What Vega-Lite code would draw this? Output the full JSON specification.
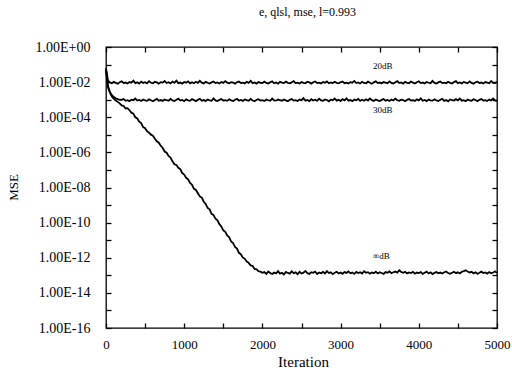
{
  "$schema": "https://vega.github.io/schema/vega-lite/v6.json",
  "autosize": "none",
  "width": 391,
  "height": 281,
  "padding": {"left": 106, "top": 47, "right": 15, "bottom": 43},
  "background": "white",
  "title": {"text": "e, qlsl, mse, l=0.993", "font": "Liberation Serif, Times New Roman, serif", "fontSize": 12, "fontWeight": "normal", "color": "black", "anchor": "middle", "frame": "group", "offset": 21, "dx": 6},
  "config": {"view": {"stroke": "black", "strokeWidth": 1.3}},
  "datasets": {
    "mse": [
      {"i":0,"a":6e-2,"b":5e-2,"c":5e-2},
      {"i":25,"a":1.25e-2,"b":6e-3,"c":5e-3},
      {"i":50,"a":9.4e-3,"b":2.8e-3,"c":2.5e-3},
      {"i":75,"a":8.6e-3,"b":1.8e-3,"c":1.5e-3},
      {"i":100,"a":10.3e-3,"b":1.4e-3,"c":1.1e-3},
      {"i":125,"a":9.1e-3,"b":1.2e-3,"c":9e-4},
      {"i":150,"a":8.2e-3,"b":1.08e-3,"c":7.5e-4},
      {"i":175,"a":9.8e-3,"b":9.8e-4,"c":6.2e-4},
      {"i":200,"a":11.0e-3,"b":9.9e-4,"c":4.68e-4},
      {"i":225,"a":8.9e-3,"b":10.8e-4,"c":4.37e-4},
      {"i":250,"a":9.5e-3,"b":8.7e-4,"c":3.16e-4},
      {"i":275,"a":8.4e-3,"b":9.4e-4,"c":3.31e-4},
      {"i":300,"a":10.1e-3,"b":8.3e-4,"c":2.51e-4},
      {"i":325,"a":9.3e-3,"b":10.0e-4,"c":1.82e-4},
      {"i":350,"a":12.2e-3,"b":9.3e-4,"c":1.62e-4},
      {"i":375,"a":8.8e-3,"b":11.7e-4,"c":1.0e-4},
      {"i":400,"a":9.7e-3,"b":8.9e-4,"c":8.51e-5},
      {"i":425,"a":8.3e-3,"b":9.6e-4,"c":5.62e-5},
      {"i":450,"a":10.6e-3,"b":8.4e-4,"c":4.68e-5},
      {"i":475,"a":9.0e-3,"b":10.3e-4,"c":2.75e-5},
      {"i":500,"a":9.9e-3,"b":9.0e-4,"c":2.4e-5},
      {"i":525,"a":8.5e-3,"b":8.6e-4,"c":1.62e-5},
      {"i":550,"a":11.3e-3,"b":10.6e-4,"c":1.32e-5},
      {"i":575,"a":9.2e-3,"b":9.2e-4,"c":1.02e-5},
      {"i":600,"a":8.7e-3,"b":8.1e-4,"c":8.91e-6},
      {"i":625,"a":10.4e-3,"b":9.7e-4,"c":6.03e-6},
      {"i":650,"a":9.6e-3,"b":11.1e-4,"c":4.27e-6},
      {"i":675,"a":8.1e-3,"b":8.8e-4,"c":3.55e-6},
      {"i":700,"a":10.0e-3,"b":9.5e-4,"c":2.4e-6},
      {"i":725,"a":9.4e-3,"b":8.5e-4,"c":1.78e-6},
      {"i":750,"a":11.6e-3,"b":10.1e-4,"c":1.12e-6},
      {"i":775,"a":8.9e-3,"b":9.3e-4,"c":9.55e-7},
      {"i":800,"a":9.8e-3,"b":8.7e-4,"c":6.31e-7},
      {"i":825,"a":8.4e-3,"b":10.9e-4,"c":5.01e-7},
      {"i":850,"a":10.7e-3,"b":9.0e-4,"c":3.09e-7},
      {"i":875,"a":9.1e-3,"b":8.4e-4,"c":2.09e-7},
      {"i":900,"a":12.0e-3,"b":9.8e-4,"c":1.91e-7},
      {"i":925,"a":8.8e-3,"b":11.4e-4,"c":1.32e-7},
      {"i":950,"a":9.5e-3,"b":8.9e-4,"c":1.1e-7},
      {"i":975,"a":8.2e-3,"b":9.6e-4,"c":6.61e-8},
      {"i":1000,"a":10.2e-3,"b":8.2e-4,"c":5.5e-8},
      {"i":1025,"a":9.3e-3,"b":10.4e-4,"c":3.55e-8},
      {"i":1050,"a":11.1e-3,"b":9.1e-4,"c":2.95e-8},
      {"i":1075,"a":8.6e-3,"b":8.6e-4,"c":1.82e-8},
      {"i":1100,"a":9.9e-3,"b":10.7e-4,"c":1.41e-8},
      {"i":1125,"a":8.7e-3,"b":9.4e-4,"c":8.32e-9},
      {"i":1150,"a":10.5e-3,"b":8.3e-4,"c":7.24e-9},
      {"i":1175,"a":9.0e-3,"b":9.9e-4,"c":4.68e-9},
      {"i":1200,"a":11.8e-3,"b":11.2e-4,"c":3.09e-9},
      {"i":1225,"a":9.4e-3,"b":8.8e-4,"c":2.63e-9},
      {"i":1250,"a":8.5e-3,"b":9.5e-4,"c":1.55e-9},
      {"i":1275,"a":10.3e-3,"b":8.5e-4,"c":1.15e-9},
      {"i":1300,"a":9.2e-3,"b":10.2e-4,"c":6.92e-10},
      {"i":1325,"a":8.3e-3,"b":9.2e-4,"c":5.75e-10},
      {"i":1350,"a":9.7e-3,"b":8.7e-4,"c":3.16e-10},
      {"i":1375,"a":10.9e-3,"b":11.8e-4,"c":2.69e-10},
      {"i":1400,"a":8.8e-3,"b":9.0e-4,"c":1.66e-10},
      {"i":1425,"a":9.6e-3,"b":8.4e-4,"c":1.35e-10},
      {"i":1450,"a":8.4e-3,"b":9.7e-4,"c":8.13e-11},
      {"i":1475,"a":10.1e-3,"b":10.8e-4,"c":6.03e-11},
      {"i":1500,"a":9.0e-3,"b":8.9e-4,"c":3.63e-11},
      {"i":1525,"a":11.4e-3,"b":9.3e-4,"c":3.02e-11},
      {"i":1550,"a":9.3e-3,"b":8.6e-4,"c":1.86e-11},
      {"i":1575,"a":8.6e-3,"b":10.5e-4,"c":1.48e-11},
      {"i":1600,"a":10.0e-3,"b":9.1e-4,"c":8.51e-12},
      {"i":1625,"a":9.5e-3,"b":8.3e-4,"c":6.76e-12},
      {"i":1650,"a":8.2e-3,"b":10.0e-4,"c":4.17e-12},
      {"i":1675,"a":9.8e-3,"b":11.3e-4,"c":3.31e-12},
      {"i":1700,"a":10.8e-3,"b":8.8e-4,"c":1.91e-12},
      {"i":1725,"a":8.9e-3,"b":9.6e-4,"c":1.55e-12},
      {"i":1750,"a":9.4e-3,"b":8.5e-4,"c":1.05e-12},
      {"i":1775,"a":8.5e-3,"b":10.3e-4,"c":8.71e-13},
      {"i":1800,"a":10.4e-3,"b":9.4e-4,"c":6.03e-13},
      {"i":1825,"a":9.1e-3,"b":8.7e-4,"c":5.13e-13},
      {"i":1850,"a":11.9e-3,"b":11.0e-4,"c":3.63e-13},
      {"i":1875,"a":8.7e-3,"b":9.0e-4,"c":3.39e-13},
      {"i":1900,"a":9.6e-3,"b":8.2e-4,"c":2.29e-13},
      {"i":1925,"a":8.3e-3,"b":9.8e-4,"c":2.19e-13},
      {"i":1950,"a":10.2e-3,"b":10.6e-4,"c":1.7e-13},
      {"i":1975,"a":9.2e-3,"b":8.9e-4,"c":1.62e-13},
      {"i":2000,"a":8.8e-3,"b":9.5e-4,"c":1.38e-13},
      {"i":2025,"a":10.6e-3,"b":8.4e-4,"c":1.52e-13},
      {"i":2050,"a":9.0e-3,"b":10.1e-4,"c":1.21e-13},
      {"i":2075,"a":8.4e-3,"b":9.3e-4,"c":1.63e-13},
      {"i":2100,"a":9.9e-3,"b":8.6e-4,"c":1.34e-13},
      {"i":2125,"a":11.2e-3,"b":11.6e-4,"c":1.18e-13},
      {"i":2150,"a":8.6e-3,"b":9.1e-4,"c":1.45e-13},
      {"i":2175,"a":9.5e-3,"b":8.8e-4,"c":1.29e-13},
      {"i":2200,"a":8.1e-3,"b":10.2e-4,"c":1.71e-13},
      {"i":2225,"a":10.3e-3,"b":9.4e-4,"c":1.25e-13},
      {"i":2250,"a":9.3e-3,"b":8.6e-4,"c":1.40e-13},
      {"i":2275,"a":8.9e-3,"b":10.3e-4,"c":1.12e-13},
      {"i":2300,"a":10.7e-3,"b":9.1e-4,"c":1.55e-13},
      {"i":2325,"a":9.1e-3,"b":8.2e-4,"c":1.36e-13},
      {"i":2350,"a":8.5e-3,"b":9.8e-4,"c":1.24e-13},
      {"i":2375,"a":9.7e-3,"b":11.0e-4,"c":1.68e-13},
      {"i":2400,"a":11.5e-3,"b":8.9e-4,"c":1.31e-13},
      {"i":2425,"a":8.8e-3,"b":9.5e-4,"c":1.47e-13},
      {"i":2450,"a":9.4e-3,"b":8.4e-4,"c":1.15e-13},
      {"i":2475,"a":8.3e-3,"b":10.1e-4,"c":1.58e-13},
      {"i":2500,"a":10.1e-3,"b":9.3e-4,"c":1.27e-13},
      {"i":2525,"a":9.0e-3,"b":12.2e-4,"c":1.42e-13},
      {"i":2550,"a":8.7e-3,"b":8.8e-4,"c":1.78e-13},
      {"i":2575,"a":10.5e-3,"b":9.7e-4,"c":1.33e-13},
      {"i":2600,"a":9.6e-3,"b":8.3e-4,"c":1.21e-13},
      {"i":2625,"a":8.2e-3,"b":10.6e-4,"c":1.50e-13},
      {"i":2650,"a":9.8e-3,"b":9.0e-4,"c":1.38e-13},
      {"i":2675,"a":10.9e-3,"b":9.9e-4,"c":1.62e-13},
      {"i":2700,"a":8.9e-3,"b":8.5e-4,"c":1.19e-13},
      {"i":2725,"a":9.3e-3,"b":11.3e-4,"c":1.44e-13},
      {"i":2750,"a":8.4e-3,"b":9.2e-4,"c":1.30e-13},
      {"i":2775,"a":10.2e-3,"b":8.7e-4,"c":1.56e-13},
      {"i":2800,"a":9.2e-3,"b":10.4e-4,"c":1.26e-13},
      {"i":2825,"a":11.0e-3,"b":9.6e-4,"c":1.73e-13},
      {"i":2850,"a":8.6e-3,"b":8.1e-4,"c":1.35e-13},
      {"i":2875,"a":9.5e-3,"b":10.0e-4,"c":1.48e-13},
      {"i":2900,"a":8.8e-3,"b":9.4e-4,"c":1.17e-13},
      {"i":2925,"a":10.4e-3,"b":11.6e-4,"c":1.41e-13},
      {"i":2950,"a":9.1e-3,"b":8.9e-4,"c":1.60e-13},
      {"i":2975,"a":8.5e-3,"b":9.8e-4,"c":1.28e-13},
      {"i":3000,"a":9.9e-3,"b":8.4e-4,"c":1.46e-13},
      {"i":3025,"a":10.8e-3,"b":10.7e-4,"c":1.22e-13},
      {"i":3050,"a":8.7e-3,"b":9.1e-4,"c":1.53e-13},
      {"i":3075,"a":9.4e-3,"b":12.0e-4,"c":1.37e-13},
      {"i":3100,"a":8.3e-3,"b":8.8e-4,"c":1.66e-13},
      {"i":3125,"a":10.0e-3,"b":9.5e-4,"c":1.30e-13},
      {"i":3150,"a":9.3e-3,"b":8.2e-4,"c":1.43e-13},
      {"i":3175,"a":11.7e-3,"b":10.2e-4,"c":1.20e-13},
      {"i":3200,"a":8.9e-3,"b":9.3e-4,"c":1.57e-13},
      {"i":3225,"a":9.6e-3,"b":11.1e-4,"c":1.34e-13},
      {"i":3250,"a":8.4e-3,"b":8.6e-4,"c":1.49e-13},
      {"i":3275,"a":10.3e-3,"b":9.9e-4,"c":1.25e-13},
      {"i":3300,"a":9.0e-3,"b":8.7e-4,"c":1.70e-13},
      {"i":3325,"a":8.6e-3,"b":10.5e-4,"c":1.39e-13},
      {"i":3350,"a":10.6e-3,"b":9.0e-4,"c":1.51e-13},
      {"i":3375,"a":9.2e-3,"b":11.8e-4,"c":1.23e-13},
      {"i":3400,"a":8.1e-3,"b":9.4e-4,"c":1.45e-13},
      {"i":3425,"a":9.7e-3,"b":8.5e-4,"c":1.32e-13},
      {"i":3450,"a":11.1e-3,"b":10.3e-4,"c":1.61e-13},
      {"i":3475,"a":8.8e-3,"b":9.2e-4,"c":1.27e-13},
      {"i":3500,"a":9.5e-3,"b":8.3e-4,"c":1.48e-13},
      {"i":3525,"a":8.5e-3,"b":9.7e-4,"c":1.36e-13},
      {"i":3550,"a":10.1e-3,"b":10.9e-4,"c":1.19e-13},
      {"i":3575,"a":9.3e-3,"b":8.8e-4,"c":1.54e-13},
      {"i":3600,"a":8.7e-3,"b":9.6e-4,"c":1.40e-13},
      {"i":3625,"a":10.9e-3,"b":8.4e-4,"c":1.67e-13},
      {"i":3650,"a":9.0e-3,"b":10.1e-4,"c":1.31e-13},
      {"i":3675,"a":8.4e-3,"b":9.0e-4,"c":1.50e-13},
      {"i":3700,"a":9.8e-3,"b":11.4e-4,"c":1.63e-13},
      {"i":3725,"a":11.4e-3,"b":9.3e-4,"c":1.42e-13},
      {"i":3750,"a":8.9e-3,"b":8.6e-4,"c":1.95e-13},
      {"i":3775,"a":9.6e-3,"b":10.0e-4,"c":1.55e-13},
      {"i":3800,"a":8.2e-3,"b":9.5e-4,"c":1.38e-13},
      {"i":3825,"a":10.4e-3,"b":8.2e-4,"c":1.60e-13},
      {"i":3850,"a":9.1e-3,"b":9.8e-4,"c":1.29e-13},
      {"i":3875,"a":8.6e-3,"b":10.8e-4,"c":1.47e-13},
      {"i":3900,"a":10.7e-3,"b":8.9e-4,"c":1.35e-13},
      {"i":3925,"a":9.4e-3,"b":9.4e-4,"c":1.58e-13},
      {"i":3950,"a":8.3e-3,"b":8.5e-4,"c":1.24e-13},
      {"i":3975,"a":9.9e-3,"b":10.4e-4,"c":1.44e-13},
      {"i":4000,"a":11.2e-3,"b":9.1e-4,"c":1.33e-13},
      {"i":4025,"a":8.8e-3,"b":11.9e-4,"c":1.52e-13},
      {"i":4050,"a":9.5e-3,"b":8.7e-4,"c":1.21e-13},
      {"i":4075,"a":8.5e-3,"b":9.6e-4,"c":1.40e-13},
      {"i":4100,"a":10.2e-3,"b":8.3e-4,"c":1.62e-13},
      {"i":4125,"a":9.2e-3,"b":10.2e-4,"c":1.28e-13},
      {"i":4150,"a":8.7e-3,"b":9.2e-4,"c":1.46e-13},
      {"i":4175,"a":11.8e-3,"b":8.8e-4,"c":1.18e-13},
      {"i":4200,"a":9.0e-3,"b":10.6e-4,"c":1.37e-13},
      {"i":4225,"a":8.4e-3,"b":9.0e-4,"c":1.55e-13},
      {"i":4250,"a":9.7e-3,"b":8.4e-4,"c":1.30e-13},
      {"i":4275,"a":10.8e-3,"b":9.9e-4,"c":1.43e-13},
      {"i":4300,"a":8.9e-3,"b":11.2e-4,"c":1.26e-13},
      {"i":4325,"a":9.3e-3,"b":8.6e-4,"c":1.49e-13},
      {"i":4350,"a":8.6e-3,"b":9.5e-4,"c":1.65e-13},
      {"i":4375,"a":10.5e-3,"b":8.1e-4,"c":1.34e-13},
      {"i":4400,"a":9.1e-3,"b":10.3e-4,"c":1.22e-13},
      {"i":4425,"a":8.3e-3,"b":9.3e-4,"c":1.41e-13},
      {"i":4450,"a":10.0e-3,"b":8.9e-4,"c":1.57e-13},
      {"i":4475,"a":11.3e-3,"b":10.7e-4,"c":1.32e-13},
      {"i":4500,"a":8.8e-3,"b":9.1e-4,"c":1.48e-13},
      {"i":4525,"a":9.6e-3,"b":11.5e-4,"c":1.27e-13},
      {"i":4550,"a":8.5e-3,"b":8.8e-4,"c":1.60e-13},
      {"i":4575,"a":10.3e-3,"b":9.4e-4,"c":1.74e-13},
      {"i":4600,"a":9.4e-3,"b":8.3e-4,"c":1.92e-13},
      {"i":4625,"a":8.7e-3,"b":10.1e-4,"c":1.66e-13},
      {"i":4650,"a":11.0e-3,"b":9.0e-4,"c":1.45e-13},
      {"i":4675,"a":9.0e-3,"b":8.7e-4,"c":1.58e-13},
      {"i":4700,"a":8.2e-3,"b":10.5e-4,"c":1.30e-13},
      {"i":4725,"a":9.8e-3,"b":9.6e-4,"c":1.50e-13},
      {"i":4750,"a":10.6e-3,"b":8.2e-4,"c":1.21e-13},
      {"i":4775,"a":8.9e-3,"b":9.8e-4,"c":1.39e-13},
      {"i":4800,"a":9.5e-3,"b":10.9e-4,"c":1.61e-13},
      {"i":4825,"a":8.4e-3,"b":8.9e-4,"c":1.35e-13},
      {"i":4850,"a":10.1e-3,"b":9.3e-4,"c":1.46e-13},
      {"i":4875,"a":9.3e-3,"b":8.4e-4,"c":1.25e-13},
      {"i":4900,"a":8.6e-3,"b":10.1e-4,"c":1.53e-13},
      {"i":4925,"a":11.6e-3,"b":9.0e-4,"c":1.31e-13},
      {"i":4950,"a":9.1e-3,"b":11.7e-4,"c":1.44e-13},
      {"i":4975,"a":8.8e-3,"b":9.2e-4,"c":1.69e-13},
      {"i":5000,"a":10.2e-3,"b":8.6e-4,"c":1.36e-13}
    ],
    "lab": [
      {"i":3540,"v":0.08,"t":"20dB"},
      {"i":3540,"v":2.5e-4,"t":"30dB"},
      {"i":3520,"v":1.2e-12,"t":"∞dB"}
    ]
  },
  "layer": [
    {
      "data": {"name": "mse"},
      "mark": {"type": "line", "color": "black", "strokeWidth": 1.8},
      "encoding": {
        "x": {"field": "i", "type": "quantitative", "scale": {"domain": [0, 5000], "nice": false},
          "axis": {"orient": "bottom", "offset": -5, "domain": false, "ticks": true, "values": [0,500,1000,1500,2000,2500,3000,3500,4000,4500,5000], "format": "d",
            "labelExpr": "datum.value % 1000 == 0 ? datum.label : ''",
            "tickSize": 5, "tickWidth": 1.3, "tickColor": "black", "tickOpacity": 1, "grid": false,
            "labelPadding": 10, "labelFont": "Liberation Serif, Times New Roman, serif", "labelFontSize": 13, "labelColor": "black",
            "labelFlush": false, "labelOverlap": false,
            "title": "Iteration", "titleFont": "Liberation Serif, Times New Roman, serif", "titleFontSize": 15, "titleFontWeight": "normal", "titleColor": "black",
            "titleX": 197, "titleY": 38, "titleAlign": "center", "titleBaseline": "middle"}},
        "y": {"field": "a", "type": "quantitative", "scale": {"type": "log", "domain": [1e-16, 1], "nice": false},
          "axis": {"orient": "left", "offset": -5, "domain": false, "ticks": true, "values": [1,1e-1,1e-2,1e-3,1e-4,1e-5,1e-6,1e-7,1e-8,1e-9,1e-10,1e-11,1e-12,1e-13,1e-14,1e-15,1e-16],
            "labelExpr": "(round(log(datum.value)/LN10) % 2 != 0) ? '' : '1.00E' + (round(log(datum.value)/LN10) >= 0 ? '+' : '-') + (abs(round(log(datum.value)/LN10)) < 10 ? '0' : '') + abs(round(log(datum.value)/LN10))",
            "tickSize": 5, "tickWidth": 1.3, "tickColor": "black", "tickOpacity": 1, "grid": false,
            "labelPadding": 16, "labelFont": "Liberation Serif, Times New Roman, serif", "labelFontSize": 14, "labelColor": "black",
            "labelFlush": false, "labelOverlap": false,
            "title": "MSE", "titleFont": "Liberation Serif, Times New Roman, serif", "titleFontSize": 13, "titleFontWeight": "normal", "titleColor": "black",
            "titleX": -98, "titleY": 140, "titleAngle": -90, "titleAlign": "center", "titleBaseline": "middle"}}
      }
    },
    {
      "data": {"name": "mse"},
      "mark": {"type": "line", "color": "black", "strokeWidth": 1.8},
      "encoding": {
        "x": {"field": "i", "type": "quantitative", "scale": {"domain": [0, 5000], "nice": false},
          "axis": {"orient": "top", "offset": -5, "ticks": true, "values": [0,500,1000,1500,2000,2500,3000,3500,4000,4500,5000], "labels": false, "tickSize": 5, "tickWidth": 1.3, "tickColor": "black", "tickOpacity": 1, "domain": false, "grid": false, "title": null}},
        "y": {"field": "b", "type": "quantitative", "scale": {"type": "log", "domain": [1e-16, 1], "nice": false},
          "axis": {"orient": "right", "offset": -5, "ticks": true, "values": [1,1e-1,1e-2,1e-3,1e-4,1e-5,1e-6,1e-7,1e-8,1e-9,1e-10,1e-11,1e-12,1e-13,1e-14,1e-15,1e-16], "labels": false, "tickSize": 5, "tickWidth": 1.3, "tickColor": "black", "tickOpacity": 1, "domain": false, "grid": false, "title": null}}
      }
    },
    {
      "data": {"name": "mse"},
      "mark": {"type": "line", "color": "black", "strokeWidth": 1.8},
      "encoding": {
        "x": {"field": "i", "type": "quantitative", "scale": {"domain": [0, 5000], "nice": false}, "axis": null},
        "y": {"field": "c", "type": "quantitative", "scale": {"type": "log", "domain": [1e-16, 1], "nice": false}, "axis": null}
      }
    },
    {
      "data": {"name": "lab"},
      "mark": {"type": "text", "color": "black", "font": "Liberation Serif, Times New Roman, serif", "fontSize": 9, "align": "center", "baseline": "middle"},
      "encoding": {
        "x": {"field": "i", "type": "quantitative", "scale": {"domain": [0, 5000], "nice": false}, "axis": null},
        "y": {"field": "v", "type": "quantitative", "scale": {"type": "log", "domain": [1e-16, 1], "nice": false}, "axis": null},
        "text": {"field": "t"}
      }
    }
  ],
  "resolve": {"axis": {"x": "independent", "y": "independent"}}
}
